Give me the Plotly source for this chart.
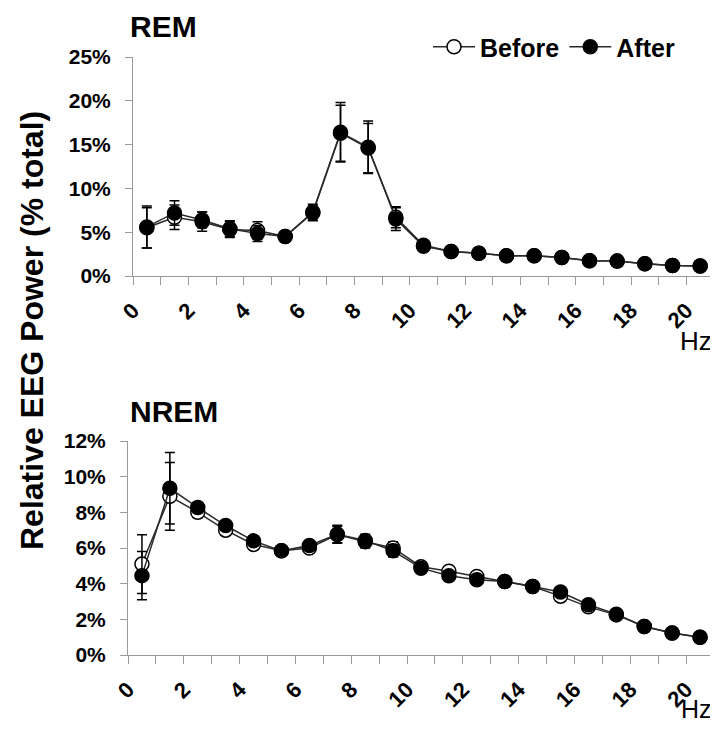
import plotly.graph_objects as go

# Frequency bins (Hz) - points at bin centres
freq = [0.5, 1.5, 2.5, 3.5, 4.5, 5.5, 6.5, 7.5, 8.5, 9.5, 10.5,
        11.5, 12.5, 13.5, 14.5, 15.5, 16.5, 17.5, 18.5, 19.5, 20.5]

# REM relative power (%)
rem_before = [5.5, 6.7, 6.2, 5.3, 5.2, 4.5, 7.2, 16.3, 14.6, 6.7, 3.5,
              2.8, 2.6, 2.3, 2.3, 2.1, 1.75, 1.7, 1.4, 1.2, 1.15]
rem_after = [5.6, 7.2, 6.4, 5.4, 4.85, 4.5, 7.3, 16.4, 14.7, 6.5, 3.4,
             2.8, 2.6, 2.3, 2.3, 2.1, 1.75, 1.7, 1.4, 1.2, 1.15]
rem_before_err = [2.3, 1.4, 1.1, 0.9, 1.0, 0.4, 0.9, 3.2, 2.8, 1.2, 0.3,
                  0.2, 0.2, 0.15, 0.15, 0.15, 0.1, 0.1, 0.1, 0.1, 0.1]
rem_after_err = [2.4, 1.4, 0.9, 0.9, 0.9, 0.4, 0.9, 3.4, 3.0, 1.3, 0.3,
                 0.2, 0.2, 0.15, 0.15, 0.15, 0.1, 0.1, 0.1, 0.1, 0.1]

# NREM relative power (%)
nrem_before = [5.1, 8.9, 8.0, 7.0, 6.2, 5.85, 6.0, 6.75, 6.35, 6.0, 4.95,
               4.7, 4.4, 4.12, 3.84, 3.3, 2.7, 2.25, 1.6, 1.23, 0.99]
nrem_after = [4.45, 9.35, 8.27, 7.26, 6.4, 5.84, 6.14, 6.77, 6.42, 5.84, 4.87,
              4.44, 4.22, 4.12, 3.84, 3.53, 2.82, 2.29, 1.6, 1.23, 0.99]
nrem_before_err = [1.65, 1.9, 0.3, 0.25, 0.2, 0.15, 0.15, 0.45, 0.35, 0.35, 0.2,
                   0.2, 0.15, 0.1, 0.1, 0.15, 0.1, 0.1, 0.05, 0.05, 0.05]
nrem_after_err = [1.35, 2.0, 0.3, 0.25, 0.2, 0.15, 0.2, 0.5, 0.35, 0.35, 0.2,
                  0.15, 0.1, 0.1, 0.1, 0.1, 0.1, 0.1, 0.05, 0.05, 0.05]

x_ticks = list(range(0, 22))
x_ticktext = [str(v) if v % 2 == 0 else "" for v in x_ticks]
rem_yticks = [0, 5, 10, 15, 20, 25]
nrem_yticks = [0, 2, 4, 6, 8, 10, 12]

FONT = "Liberation Sans, Arial, sans-serif"
LINE = "#2a2a2a"
AXC = "#9a9a9a"

fig = go.Figure()


def add_series(x, y, err, xa, ya, name, fill, show):
    fig.add_trace(go.Scatter(
        x=x, y=y, mode="lines+markers", name=name, showlegend=show,
        xaxis=xa, yaxis=ya,
        line=dict(color=LINE, width=1.5),
        marker=dict(size=14, color=fill, line=dict(color="black", width=1.5)),
        error_y=dict(type="data", array=err, visible=True,
                     color="black", thickness=1.5, width=5),
    ))


add_series(freq, rem_before, rem_before_err, "x", "y", "Before", "white", True)
add_series(freq, rem_after, rem_after_err, "x", "y", "After", "black", True)
add_series(freq, nrem_before, nrem_before_err, "x2", "y2", "Before", "white", False)
add_series(freq, nrem_after, nrem_after_err, "x2", "y2", "After", "black", False)

# page body has an 8px margin: figure drawn at (8, 8)
OFF = 8
W, H = 710, 718


def px_x(p):
    return (p - OFF) / W


def px_y(p):
    return (H - (p - OFF)) / H


xcommon = dict(range=[0, 21], tickvals=x_ticks, ticktext=x_ticktext,
               tickangle=-45, showline=True, linecolor=AXC, linewidth=1,
               ticks="outside", ticklen=8, tickcolor=AXC, showgrid=False,
               zeroline=False, automargin=False, ticklabelstandoff=4,
               tickfont=dict(family=FONT, size=22, color="black", weight="bold"))
ycommon = dict(showline=True, linecolor=AXC, linewidth=1, ticks="outside",
               ticklen=7, tickcolor=AXC, showgrid=False, zeroline=False,
               automargin=False, ticklabelstandoff=10,
               tickfont=dict(family=FONT, size=21, color="black", weight="bold"))

fig.update_layout(
    width=W, height=H,
    margin=dict(l=0, r=0, t=0, b=0),
    paper_bgcolor="white", plot_bgcolor="white",
    xaxis=dict(domain=[px_x(133), min(1, px_x(714))], anchor="y", **xcommon),
    yaxis=dict(domain=[px_y(276), px_y(57)], anchor="x", range=[0, 25],
               tickvals=rem_yticks, ticktext=[f"{v}%" for v in rem_yticks],
               **ycommon),
    xaxis2=dict(domain=[px_x(128), min(1, px_x(714))], anchor="y2", **xcommon),
    yaxis2=dict(domain=[px_y(655), px_y(441)], anchor="x2", range=[0, 12],
                tickvals=nrem_yticks, ticktext=[f"{v}%" for v in nrem_yticks],
                **ycommon),
    legend=dict(orientation="h", x=px_x(428), y=px_y(47), xanchor="left",
                yanchor="middle", bgcolor="rgba(0,0,0,0)",
                font=dict(family=FONT, size=25, color="black", weight="bold"),
                itemwidth=42, tracegroupgap=0),
    showlegend=True,
)

annots = [
    dict(text="REM", x=px_x(128), y=1, xanchor="left", yanchor="top",
         font=dict(family=FONT, size=30, color="black", weight="bold")),
    dict(text="NREM", x=px_x(128), y=px_y(412), xanchor="left", yanchor="middle",
         font=dict(family=FONT, size=30, color="black", weight="bold")),
    dict(text="Hz", x=px_x(696), y=px_y(341), xanchor="center", yanchor="middle",
         font=dict(family=FONT, size=26, color="black")),
    dict(text="Hz", x=px_x(696), y=px_y(709), xanchor="center", yanchor="middle",
         font=dict(family=FONT, size=25, color="black")),
    dict(text="Relative EEG Power (% total)", x=px_x(32), y=px_y(331),
         textangle=-90, xanchor="center", yanchor="middle",
         font=dict(family=FONT, size=32, color="black", weight="bold")),
]
for a in annots:
    fig.add_annotation(xref="paper", yref="paper", showarrow=False, **a)

fig.write_html("out.html")
